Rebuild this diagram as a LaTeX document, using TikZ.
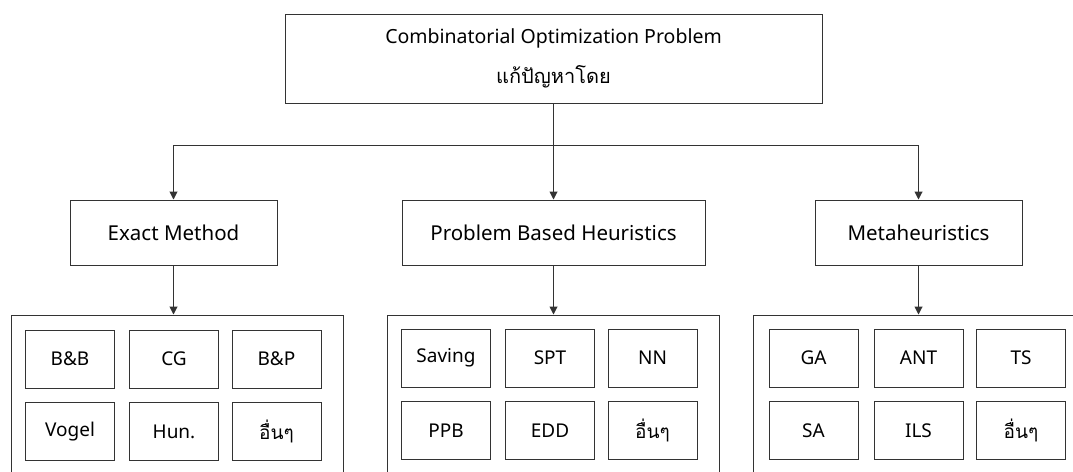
\documentclass[tikz,border=0pt]{standalone}
\usepackage{fontspec}
\setmainfont{Noto Sans}
\newfontfamily\thai[Script=Thai]{Loma}
\usetikzlibrary{arrows.meta}
\begin{document}
\begin{tikzpicture}[x=1pt,y=-1pt,
  box/.style={draw=black!80, line width=1pt, rectangle, inner sep=0pt, font=\fontsize{19}{24}\selectfont},
  cont/.style={draw=black!80, line width=1pt, rectangle, inner sep=0pt},
  mid/.style={box, minimum height=65pt, font=\fontsize{20.5}{24}\selectfont},
  small/.style={box, minimum width=89pt, minimum height=58pt},
  arr/.style={draw=black!80, line width=1pt, -{Triangle[length=8pt,width=8pt]}}]
\useasboundingbox (0,0) rectangle (1073,471);
\clip (0,0) rectangle (1073,471);
\fill[white] (0,0) rectangle (1073,471);
% top
\node[box, minimum width=537pt, minimum height=89pt, align=center, font=\fontsize{19.5}{40}\selectfont] (top) at (553.5,58.5)
  {Combinatorial Optimization Problem\\{\thai\fontsize{20}{40}\selectfont แก้ปัญหาโดย}};
% level 2
\node[mid, minimum width=207pt] (exact) at (173.5,232.5) {Exact Method};
\node[mid, minimum width=303pt] (pbh) at (553.5,232.5) {Problem Based Heuristics};
\node[mid, minimum width=207pt] (meta) at (918.5,232.5) {Metaheuristics};
% containers
\node[cont, minimum width=332pt, minimum height=180pt] (c1) at (177,405) {};
\node[cont, minimum width=332pt, minimum height=180pt] (c2) at (553,405) {};
\node[cont, minimum width=332pt, minimum height=180pt] (c3) at (919,405) {};
% connectors
\coordinate (j) at (553.5,145);
\draw[arr] (top.south) -- (pbh.north);
\draw[arr] (j) -| (exact.north);
\draw[arr] (j) -| (meta.north);
\draw[arr] (exact.south) -- (exact.south |- c1.north);
\draw[arr] (pbh.south) -- (pbh.south |- c2.north);
\draw[arr] (meta.south) -- (meta.south |- c3.north);
% container 1
\node[small] (a1) at (70,359) {B\&B};
\node[small] (a2) at (174,359) {CG};
\node[small] (a3) at (276.5,359) {B\&P};
\node[small] (a4) at (70,431.5) {Vogel};
\node[small] (a5) at (174,431.5) {Hun.};
\node[small] (a6) at (276.5,431.5) {\thai อื่นๆ};
% container 2
\node[small] (b1) at (446,358) {Saving};
\node[small] (b2) at (550,358) {SPT};
\node[small] (b3) at (652.5,358) {NN};
\node[small] (b4) at (446,430.5) {PPB};
\node[small] (b5) at (550,430.5) {EDD};
\node[small] (b6) at (652.5,430.5) {\thai อื่นๆ};
% container 3
\node[small] (d1) at (813.5,358) {GA};
\node[small] (d2) at (918.5,358) {ANT};
\node[small] (d3) at (1021,358) {TS};
\node[small] (d4) at (813.5,430.5) {SA};
\node[small] (d5) at (918.5,430.5) {ILS};
\node[small] (d6) at (1021,430.5) {\thai อื่นๆ};
\end{tikzpicture}
\end{document}
